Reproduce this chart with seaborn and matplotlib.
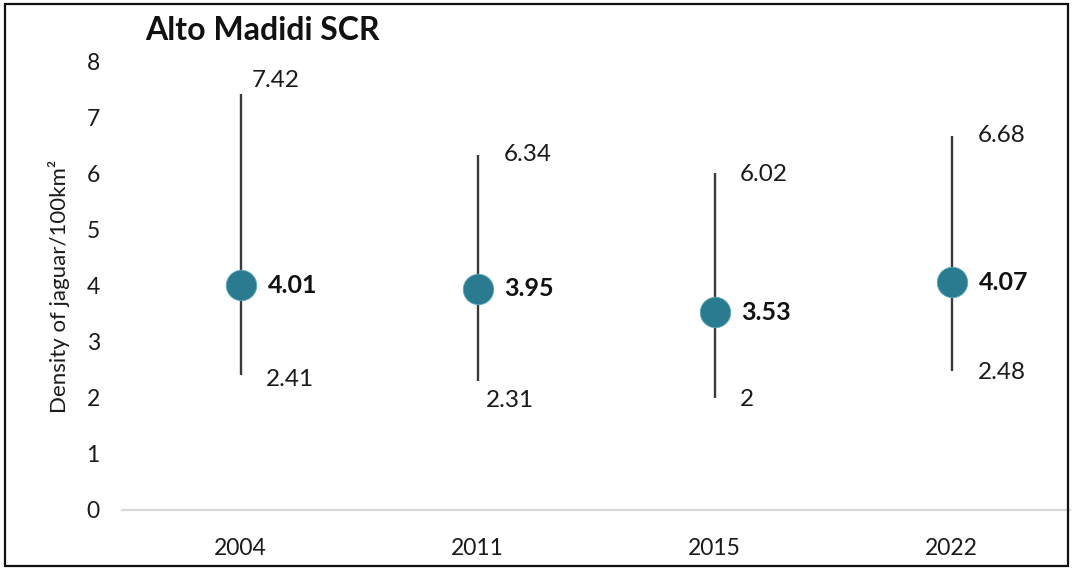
import numpy as np
import pandas as pd
import matplotlib
matplotlib.use("Agg")
import matplotlib.pyplot as plt
import matplotlib.patches as mpatches
import seaborn as sns

years = ["2004", "2011", "2015", "2022"]
density = [4.01, 3.95, 3.53, 4.07]
lower = [2.41, 2.31, 2.00, 2.48]
upper = [7.42, 6.34, 6.02, 6.68]
upper_labels = ["7.42", "6.34", "6.02", "6.68"]
lower_labels = ["2.41", "2.31", "2", "2.48"]
mean_labels = ["4.01", "3.95", "3.53", "4.07"]
yticks = [0, 1, 2, 3, 4, 5, 6, 7, 8]
title = "Alto Madidi SCR"
ylabel = "Density of jaguar/100km²"

# label offsets in pixels (dx, dy) - layout only
up_off = [(11, 14), (26, 0), (25, -2), (26, 0)]
lo_off = [(25, -4), (8, -20), (25, -2), (26, -1)]

sns.set_theme(style="white")
plt.rcParams["font.family"] = ["Lato", "DejaVu Sans"]

fig = plt.figure(figsize=(10.76, 5.70), dpi=100)
ax = fig.add_axes([122 / 1076, 60 / 570, (1070 - 122) / 1076, (510 - 62) / 570])

df = pd.DataFrame({"pos": np.arange(len(years)), "density": density,
                   "lower": lower, "upper": upper})

ax.vlines(df["pos"], df["lower"], df["upper"], color="#3a3a3a", linewidth=1.7, zorder=2)
sns.scatterplot(data=df, x="pos", y="density", ax=ax, s=480, color="#2B7B90",
                edgecolor="#5aa9bb", linewidth=0.6, zorder=3, legend=False)

px = 0.72
for i in range(len(years)):
    ax.annotate(upper_labels[i], xy=(i, upper[i]), xytext=(up_off[i][0] * px, up_off[i][1] * px),
                textcoords="offset points", ha="left", va="center", fontsize=17.5, color="#1a1a1a")
    ax.annotate(lower_labels[i], xy=(i, lower[i]), xytext=(lo_off[i][0] * px, lo_off[i][1] * px),
                textcoords="offset points", ha="left", va="center", fontsize=17.5, color="#1a1a1a")
    ax.annotate(mean_labels[i], xy=(i, density[i]), xytext=(27 * px, 0),
                textcoords="offset points", ha="left", va="center", fontsize=18,
                fontweight="bold", color="#111111")

ax.set_xlim(-0.5, len(years) - 0.5)
ax.set_ylim(0, 8)
ax.set_yticks(yticks)
ax.set_yticklabels([str(t) for t in yticks], fontsize=16.5, color="#1a1a1a")
ax.set_xticks(np.arange(len(years)))
ax.set_xticklabels(years, fontsize=16.5, color="#1a1a1a")
ax.tick_params(axis="y", length=0, pad=16)
ax.tick_params(axis="x", length=0, pad=20)
ax.set_xlabel("")
ax.set_ylabel(ylabel, fontsize=16, color="#1a1a1a", labelpad=12)

for s in ["top", "right", "left"]:
    ax.spines[s].set_visible(False)
ax.spines["bottom"].set_color("#d9d9d9")
ax.spines["bottom"].set_linewidth(1.6)
ax.patch.set_alpha(0)

fig.text(145 / 1076, 1 - 30 / 570, title, fontsize=23, fontweight="bold",
         ha="left", va="center", color="#111111")

fig.patches.append(mpatches.Rectangle((5 / 1076, 4 / 570), 1063 / 1076, 562 / 570,
                                      transform=fig.transFigure, fill=False,
                                      edgecolor="#111111", linewidth=1.6, zorder=10))

fig.savefig("out.png", dpi=100, facecolor="white")
